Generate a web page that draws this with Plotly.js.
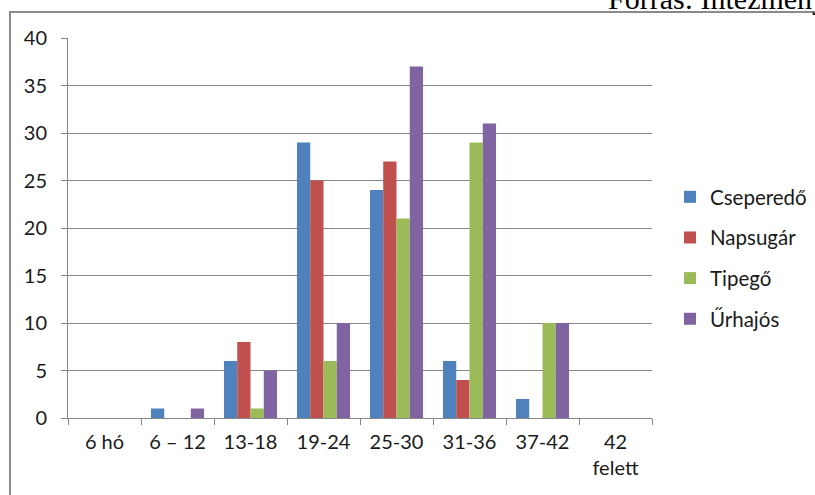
<!DOCTYPE html>
<html>
<head>
<meta charset="utf-8">
<script src="https://cdn.plot.ly/plotly-3.0.1.min.js"></script>
<style>
  html, body { margin: 0; padding: 0; background: #fff; }
  #chart { width: 815px; height: 495px; }
</style>
</head>
<body>
<div id="chart"></div>
<script>
const categories = ['6 hó', '6 – 12', '13-18', '19-24', '25-30', '31-36', '37-42', '42<br>felett'];
const seriesNames = ['Cseperedő', 'Napsugár', 'Tipegő', 'Űrhajós'];
const cseperedo = [0, 1, 6, 29, 24, 6, 2, 0];
const napsugar  = [0, 0, 8, 25, 27, 4, 0, 0];
const tipego    = [0, 0, 1, 6, 21, 29, 10, 0];
const urhajos   = [0, 1, 5, 10, 37, 31, 10, 0];
const colors = ['#4F81BD', '#C0504D', '#9BBB59', '#8064A2'];
const yTicks = [0, 5, 10, 15, 20, 25, 30, 35, 40];

const seriesValues = [cseperedo, napsugar, tipego, urhajos];
const font = 'Lato, "Open Sans", sans-serif';

const traces = seriesValues.map((vals, i) => ({
  type: 'bar',
  name: seriesNames[i],
  x: categories,
  y: vals,
  legendgroup: 'g' + i,
  marker: { color: colors[i], line: { width: 0 } },
  hoverinfo: 'x+y+name'
}));

// geometry helpers (pixel -> paper)
const W = 815, H = 495, L = 68, R = 163, T = 38, B = 77;
const pw = W - L - R, ph = H - T - B;
const px = p => (p - L) / pw;
const py = p => (H - B - p) / ph;

const layout = {
  width: W, height: H,
  margin: { l: L, r: R, t: T, b: B, pad: 0, autoexpand: false },
  paper_bgcolor: '#ffffff',
  plot_bgcolor: '#ffffff',
  font: { family: font, size: 20, color: '#1a1a1a' },
  barmode: 'group',
  bargap: 0.273,
  bargroupgap: 0,
  showlegend: true,
  legend: {
    x: px(670), y: py(258), xanchor: 'left', yanchor: 'middle',
    font: { family: font, size: 20.5, color: '#1a1a1a' },
    tracegroupgap: 11,
    itemwidth: 30,
    bgcolor: 'rgba(0,0,0,0)'
  },
  xaxis: {
    type: 'category',
    showgrid: false,
    showline: true, linecolor: '#868686', linewidth: 1,
    ticks: 'outside', tickson: 'boundaries', ticklen: 6, tickcolor: '#868686',
    ticklabelstandoff: 6,
    tickfont: { family: font, size: 20, color: '#1a1a1a' },
    fixedrange: true
  },
  yaxis: {
    range: [0, 40],
    tickvals: yTicks,
    ticktext: yTicks.map(String),
    showgrid: true, gridcolor: '#868686', gridwidth: 1,
    showline: true, linecolor: '#868686', linewidth: 1,
    zeroline: false,
    ticks: 'outside', ticklen: 6, tickcolor: '#868686',
    ticklabelstandoff: 10,
    tickfont: { family: font, size: 20, color: '#1a1a1a' },
    fixedrange: true
  },
  shapes: [{
    type: 'path', xref: 'paper', yref: 'paper',
    path: `M ${px(10)},${py(560)} L ${px(10)},${py(12)} L ${px(900)},${py(12)}`,
    line: { color: '#8a8a8a', width: 2 }
  }],
  annotations: [{
    text: 'Forrás: Intézmények',
    xref: 'paper', yref: 'paper',
    x: px(606), y: py(17), xanchor: 'left', yanchor: 'bottom',
    showarrow: false,
    font: { family: '"Liberation Serif", "Times New Roman", serif', size: 30, color: '#000' }
  }]
};

Plotly.newPlot('chart', traces, layout, { displayModeBar: false, staticPlot: true });
</script>
</body>
</html>
